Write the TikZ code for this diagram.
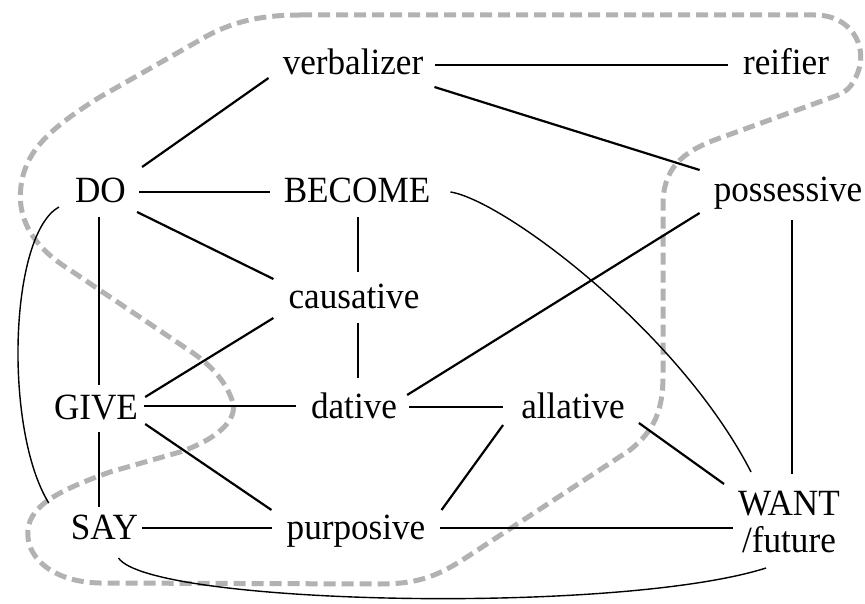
\documentclass[tikz,border=0pt]{standalone}
\usepackage{fontspec}
\setmainfont{Liberation Serif}[FakeStretch=0.95]
\usetikzlibrary{calc}
\definecolor{hullgray}{RGB}{178,178,178}
\tikzset{
  lbl/.style={inner sep=0pt, anchor=base, font=\fontsize{37}{37}\selectfont},
  edge/.style={line width=2.2pt, black},
  arc/.style={line width=1.4pt, black},
  hull/.style={line width=5pt, hullgray, dash pattern=on 12pt off 6pt, line join=round}
}
\begin{document}
\begin{tikzpicture}[x=1pt,y=-1pt]
\useasboundingbox (0,0) rectangle (865,604);
% dashed outline
\draw[hull] (300,15) -- (815,15) .. controls (850,15) and (868,45) .. (858,72)
  .. controls (852,88) and (845,93) .. (833,97) -- (720,138)
  .. controls (680,152) and (663,170) .. (663,205) -- (663,375)
  .. controls (663,410) and (655,430) .. (630,450) -- (470,555)
  .. controls (440,575) and (420,584) .. (380,584) -- (100,583)
  .. controls (50,582) and (25,555) .. (28,530)
  .. controls (30,505) and (60,490) .. (110,472) -- (180,452)
  .. controls (215,440) and (240,420) .. (232,400)
  .. controls (225,380) and (210,365) .. (193,353) -- (70,270)
  .. controls (30,245) and (15,215) .. (22,180)
  .. controls (28,150) and (50,128) .. (100,97) -- (200,40)
  .. controls (230,22) and (260,15) .. (300,15) -- cycle;
% nodes
\node[lbl] (verbalizer) at (353,75) {verbalizer};
\node[lbl] (reifier) at (786,75) {reifier};
\node[lbl] (DO) at (100.5,203) {DO};
\node[lbl] (BECOME) at (357,203) {BECOME};
\node[lbl] (possessive) at (788,202) {possessive};
\node[lbl] (causative) at (354,308) {causative};
\node[lbl] (GIVE) at (96,419) {GIVE};
\node[lbl] (dative) at (354,418) {dative};
\node[lbl] (allative) at (573,418) {allative};
\node[lbl] (SAY) at (104.5,539) {SAY};
\node[lbl] (purposive) at (356,539) {purposive};
\node[lbl, anchor=north, align=center] (WANT) at (789,491) {WANT\\/future};
% straight connectors
\draw[edge] ($(verbalizer.base east)+(12,-10)$) -- ($(reifier.base west)+(-15,-10)$);
\draw[edge] ($(verbalizer.base west)+(-14,3)$) -- ($(DO.base east)+(16,-36)$);
\draw[edge] ($(verbalizer.base east)+(11,12)$) -- ($(possessive.base west)+(-14,-32)$);
\draw[edge] ($(DO.base east)+(13,-11)$) -- ($(BECOME.base west)+(-14,-11)$);
\draw[edge] ($(DO.base east)+(11,9)$) -- ($(causative.base west)+(-15,-29)$);
\draw[edge] ($(DO.base)+(-1.5,14)$) -- ($(DO.base |- GIVE.base)+(-1.5,-34)$);
\draw[edge] ($(BECOME.base)+(1,14)$) -- ($(BECOME.base |- causative.base)+(1,-36)$);
\draw[edge] ($(causative.base west)+(-15,10)$) -- ($(GIVE.base east)+(7,-22)$);
\draw[edge] ($(BECOME.base |- causative.base)+(1,15)$) -- ($(BECOME.base |- dative.base)+(1,-40)$);
\draw[edge] ($(possessive.base west)+(-14,11)$) -- ($(dative.base east)+(10,-23)$);
\draw[edge] ($(possessive.base)+(4,18)$) -- ($(possessive.base |- WANT.north)+(4,-17)$);
\draw[edge] ($(GIVE.base east)+(6,-13)$) -- ($(dative.base west)+(-15,-12)$);
\draw[edge] ($(dative.base east)+(12,-11)$) -- ($(allative.base west)+(-18,-11)$);
\draw[edge] ($(GIVE.base)+(3,13)$) -- ($(GIVE.base |- SAY.base)+(3,-32)$);
\draw[edge] ($(GIVE.base east)+(7,5)$) -- ($(purposive.base west)+(-15,-29)$);
\draw[edge] ($(allative.base west)+(-18,7)$) -- ($(purposive.base east)+(16,-29)$);
\draw[edge] ($(allative.base east)+(14,5)$) -- ($(WANT.north west)+(-14,-7)$);
\draw[edge] ($(SAY.base east)+(4,-11)$) -- ($(purposive.base west)+(-14,-11)$);
\draw[edge] ($(purposive.base east)+(14,-11)$) -- ($(WANT.north west)+(-5,37)$);
% curved connectors
\draw[arc] ($(BECOME.base east)+(20,-11)$) .. controls +(52,8) and +(-73,-142) .. ($(WANT.north west)+(13,-19)$);
\draw[arc] ($(DO.base west)+(-16,4)$) .. controls +(-50,28) and +(-45,-73) .. ($(SAY.base west)+(-22,-36)$);
\draw[arc] ($(SAY.base)+(14,19)$) .. controls +(32,47) and +(-148,47) .. ($(WANT.north west)+(28,77)$);
\end{tikzpicture}
\end{document}
